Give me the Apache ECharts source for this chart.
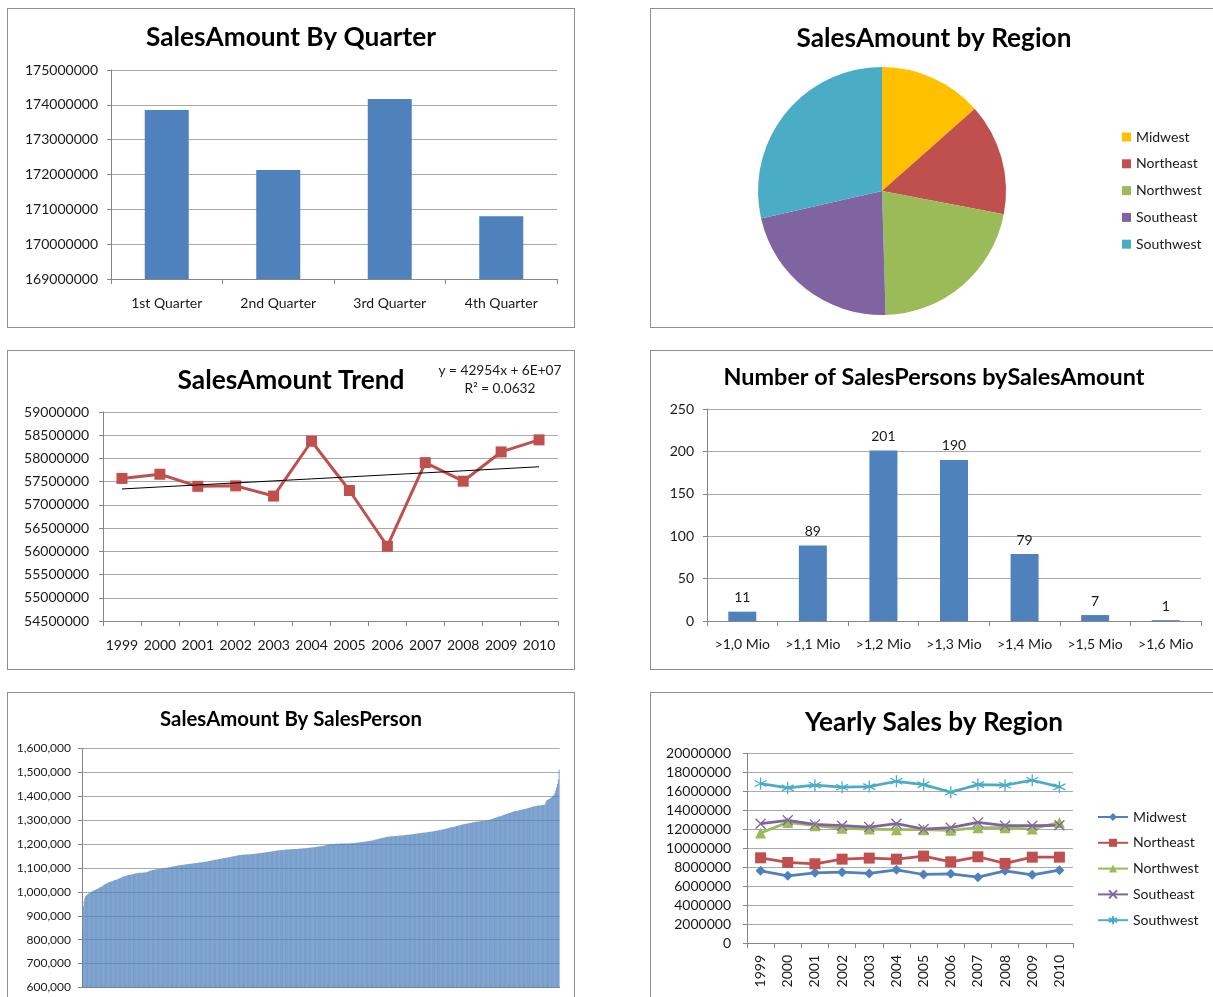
<!DOCTYPE html>
<html>
<head>
<meta charset="utf-8">
<script src="https://cdn.jsdelivr.net/npm/echarts@6/dist/echarts.min.js"></script>
<style>
html,body{margin:0;padding:0;background:#fff;overflow:hidden;width:1213px;height:997px;}
.panel{position:absolute;border:1px solid #8f8f8f;box-sizing:border-box;background:#fff;width:568px;}
</style>
</head>
<body>
<div id="c1" class="panel" style="left:7px;top:8px;height:320px"></div>
<div id="c2" class="panel" style="left:650px;top:8px;height:320px"></div>
<div id="c3" class="panel" style="left:7px;top:350px;height:320px"></div>
<div id="c4" class="panel" style="left:650px;top:350px;height:320px"></div>
<div id="c5" class="panel" style="left:7px;top:692px;height:330px"></div>
<div id="c6" class="panel" style="left:650px;top:692px;height:330px"></div>
<script>
// ---------------- DATA ----------------
const quarters = ['1st Quarter', '2nd Quarter', '3rd Quarter', '4th Quarter'];
const quarterSales = [173850000, 172130000, 174170000, 170800000];

const regions = ['Midwest', 'Northeast', 'Northwest', 'Southeast', 'Southwest'];
const regionSales = [92900000, 100600000, 148800000, 151400000, 197300000];

const years = ['1999', '2000', '2001', '2002', '2003', '2004', '2005', '2006', '2007', '2008', '2009', '2010'];
const yearlySales = [57570000, 57660000, 57400000, 57410000, 57190000, 58370000, 57310000, 56110000, 57910000, 57510000, 58140000, 58400000];
const trendEquation = 'y = 42954x + 6E+07';
const trendR2 = 'R\u00B2 = 0.0632';

const amountBins = ['>1,0 Mio', '>1,1 Mio', '>1,2 Mio', '>1,3 Mio', '>1,4 Mio', '>1,5 Mio', '>1,6 Mio'];
const binCounts = [11, 89, 201, 190, 79, 7, 1];

// sales amount per sales person, in thousands, sorted ascending
const salesPersonK = [
 838, 940, 962, 975, 982, 986, 989, 992, 994, 996, 998,
 1001, 1003, 1004, 1006, 1008, 1009, 1011, 1012, 1014, 1016,
 1018, 1020, 1022, 1024, 1026, 1029, 1031, 1033, 1035, 1036,
 1038, 1040, 1041, 1043, 1044, 1045, 1046, 1048, 1049, 1050,
 1051, 1052, 1054, 1055, 1057, 1058, 1060, 1061, 1063, 1064,
 1066, 1067, 1068, 1069, 1070, 1071, 1071, 1072, 1072, 1073,
 1074, 1075, 1076, 1077, 1078, 1078, 1079, 1079, 1080, 1080,
 1080, 1080, 1080, 1081, 1081, 1081, 1082, 1082, 1083, 1085,
 1087, 1089, 1090, 1091, 1092, 1093, 1093, 1094, 1094, 1095,
 1095, 1096, 1096, 1097, 1097, 1098, 1098, 1099, 1099,
 1100, 1100, 1101, 1102, 1102, 1103, 1104, 1104, 1105, 1106,
 1106, 1107, 1107, 1108, 1109, 1109, 1110, 1111, 1111, 1112,
 1113, 1113, 1114, 1114, 1115, 1115, 1116, 1116, 1117, 1117,
 1118, 1118, 1118, 1119, 1119, 1120, 1120, 1120, 1121, 1121,
 1122, 1122, 1123, 1123, 1124, 1124, 1125, 1125, 1126, 1126,
 1127, 1127, 1128, 1129, 1129, 1130, 1131, 1131, 1132, 1133,
 1134, 1134, 1135, 1136, 1136, 1137, 1138, 1138, 1139, 1140,
 1141, 1141, 1142, 1142, 1143, 1143, 1144, 1145, 1145, 1146,
 1147, 1147, 1148, 1149, 1149, 1150, 1151, 1151, 1152, 1153,
 1154, 1154, 1154, 1155, 1155, 1155, 1155, 1156, 1156, 1156,
 1157, 1157, 1157, 1158, 1158, 1158, 1159, 1159, 1160, 1160,
 1160, 1161, 1161, 1162, 1162, 1162, 1163, 1163, 1164, 1164,
 1165, 1165, 1166, 1166, 1167, 1167, 1168, 1168, 1169, 1169,
 1170, 1170, 1171, 1171, 1172, 1172, 1173, 1173, 1174, 1174,
 1174, 1175, 1175, 1175, 1176, 1176, 1176, 1177, 1177, 1177,
 1177, 1178, 1178, 1178, 1179, 1179, 1179, 1179, 1180, 1180,
 1180, 1181, 1181, 1181, 1182, 1182, 1182, 1183, 1183, 1183,
 1183, 1184, 1184, 1184, 1185, 1185, 1185, 1186, 1186, 1186,
 1187, 1187, 1188, 1188, 1189, 1189, 1190, 1190, 1191, 1191,
 1192, 1192, 1193, 1194, 1195, 1195, 1196, 1197, 1197, 1198,
 1199,
 1200, 1200, 1200, 1200, 1200, 1201, 1201, 1201, 1201, 1201,
 1201, 1202, 1202, 1202, 1202, 1202, 1202, 1203, 1203, 1203,
 1203, 1203, 1203, 1204, 1204, 1204, 1204, 1205, 1205, 1205,
 1206, 1206, 1206, 1207, 1207, 1208, 1208, 1208, 1209, 1209,
 1210, 1210, 1211, 1211, 1212, 1212, 1213, 1213, 1214, 1214,
 1215, 1216, 1217, 1218, 1219, 1219, 1220, 1221, 1222, 1223,
 1224, 1225, 1226, 1227, 1227, 1228, 1229, 1230, 1230, 1231,
 1232, 1232, 1232, 1233, 1233, 1233, 1233, 1234, 1234, 1234,
 1235, 1235, 1235, 1236, 1236, 1236, 1236, 1237, 1237, 1237,
 1238, 1238, 1239, 1239, 1239, 1240, 1240, 1240, 1241, 1241,
 1242, 1242, 1243, 1243, 1244, 1244, 1245, 1245, 1246, 1246,
 1247, 1247, 1248, 1248, 1249, 1249, 1250, 1250, 1251, 1251,
 1252, 1252, 1253, 1253, 1254, 1255, 1255, 1256, 1256, 1257,
 1258, 1258, 1259, 1260, 1260, 1261, 1262, 1262, 1263, 1264,
 1265, 1266, 1267, 1268, 1269, 1269, 1270, 1271, 1272, 1273,
 1274, 1275, 1276, 1277, 1278, 1278, 1279, 1280, 1281, 1282,
 1283, 1283, 1284, 1285, 1285, 1286, 1287, 1287, 1288, 1289,
 1289, 1290, 1291, 1291, 1292, 1293, 1293, 1294, 1295, 1295,
 1296, 1296, 1297, 1297, 1297, 1298, 1298, 1298, 1299, 1299,
 1300, 1301, 1302, 1303, 1304, 1305, 1306, 1308, 1309, 1310,
 1311, 1312, 1314, 1315, 1316, 1317, 1318, 1319, 1321, 1322,
 1323, 1324, 1326, 1327, 1328, 1329, 1330, 1331, 1333, 1334,
 1335, 1336, 1337, 1338, 1338, 1339, 1340, 1341, 1342, 1343,
 1344, 1345, 1345, 1346, 1347, 1348, 1348, 1349, 1350, 1351,
 1352, 1353, 1354, 1355, 1356, 1357, 1357, 1358, 1359, 1360,
 1360, 1361, 1361, 1362, 1362, 1363, 1364, 1364, 1365, 1366,
 1375, 1382, 1385, 1387, 1389, 1391, 1393, 1396, 1399,
 1402, 1408, 1415, 1425, 1438, 1452, 1470,
 1512
];

const midwest   = [7620000, 7090000, 7410000, 7480000, 7340000, 7720000, 7230000, 7300000, 6950000, 7620000, 7200000, 7690000];
const northeast = [8990000, 8500000, 8360000, 8850000, 8960000, 8850000, 9170000, 8570000, 9100000, 8400000, 9060000, 9060000];
const northwest = [11600000, 12730000, 12380000, 12100000, 12030000, 11960000, 11960000, 11890000, 12170000, 12170000, 12030000, 12730000];
const southeast = [12590000, 12950000, 12520000, 12380000, 12240000, 12590000, 12030000, 12170000, 12730000, 12380000, 12380000, 12420000];
const southwest = [16830000, 16370000, 16650000, 16440000, 16510000, 17070000, 16720000, 15910000, 16720000, 16650000, 17180000, 16470000];

// ---------------- STYLE HELPERS ----------------
const FONT = 'Lato, "Open Sans", sans-serif';
const INK = '#1a1a1a';
const GRIDC = '#a9a9a9';
const AXISC = '#868686';
const BLUE = '#4F81BD', RED = '#C0504D', GREEN = '#9BBB59', PURPLE = '#8064A2', CYAN = '#4BACC6', GOLD = '#FFC000';
const plain = v => String(v);

function fitSize(text, width, weight) {
  const ctx = document.createElement('canvas').getContext('2d');
  ctx.font = (weight || 'normal') + ' 100px ' + FONT;
  return 100 * width / ctx.measureText(text).width;
}
function title(text, cy, width) {
  const fs = fitSize(text, width, 'bold');
  return {text, left: 'center', top: cy - fs * 0.45, padding: 0,
    textStyle: {fontFamily: FONT, fontWeight: 'bold', fontSize: fs, color: '#000'}};
}
function valueAxis(min, max, interval, fs, margin, formatter) {
  return {type: 'value', min, max, interval,
    axisLine: {show: true, lineStyle: {color: AXISC}},
    axisTick: {show: true, length: 4, lineStyle: {color: AXISC}},
    splitLine: {show: true, lineStyle: {color: GRIDC, width: 1}},
    axisLabel: {color: INK, fontFamily: FONT, fontSize: fs, margin, formatter: formatter || plain}};
}
function catAxis(data, fs, margin, extra) {
  return Object.assign({type: 'category', data,
    axisLine: {show: true, lineStyle: {color: AXISC}},
    axisTick: {show: true, length: 5, lineStyle: {color: AXISC}},
    splitLine: {show: false},
    axisLabel: {color: INK, fontFamily: FONT, fontSize: fs, margin, interval: 0}}, extra || {});
}
function make(id, option) {
  const ch = echarts.init(document.getElementById(id), null, {renderer: 'canvas'});
  option.animation = false;
  ch.setOption(option);
}

// ---------------- CHART 1: By Quarter ----------------
make('c1', {
  title: title('SalesAmount By Quarter', 27, 290),
  grid: {left: 103, top: 61, width: 446, height: 209, outerBoundsMode: 'none'},
  xAxis: catAxis(quarters, 14, 17),
  yAxis: valueAxis(169000000, 175000000, 1000000, 14, 13),
  series: [{type: 'bar', data: quarterSales, barWidth: 44, itemStyle: {color: BLUE}}]
});

// ---------------- CHART 2: By Region (pie) ----------------
make('c2', {
  title: title('SalesAmount by Region', 28, 275),
  legend: {orient: 'vertical', left: 471, top: 119.5, padding: 0, icon: 'rect',
    itemWidth: 9, itemHeight: 9, itemGap: 9.8, data: regions,
    textStyle: {color: INK, fontFamily: FONT, fontSize: 14, lineHeight: 17}},
  series: [{type: 'pie', center: [231, 182], radius: 124, startAngle: 90, clockwise: true,
    label: {show: false}, labelLine: {show: false},
    itemStyle: {borderWidth: 0},
    data: regions.map((r, i) => ({name: r, value: regionSales[i]})),
    color: [GOLD, RED, GREEN, PURPLE, CYAN]}]
});

// ---------------- CHART 3: Trend ----------------
(function () {
  const n = yearlySales.length;
  const xs = yearlySales.map((_, i) => i + 1);
  const mx = xs.reduce((a, b) => a + b, 0) / n;
  const my = yearlySales.reduce((a, b) => a + b, 0) / n;
  let sxy = 0, sxx = 0;
  xs.forEach((x, i) => { sxy += (x - mx) * (yearlySales[i] - my); sxx += (x - mx) * (x - mx); });
  const slope = sxy / sxx, icpt = my - slope * mx;
  const trend = xs.map(x => icpt + slope * x);
  const eqFs = fitSize(trendEquation, 123);
  make('c3', {
    title: title('SalesAmount Trend', 28, 227),
    graphic: [
      {type: 'text', x: 492, y: 20, style: {text: trendEquation, fill: INK, font: eqFs + 'px ' + FONT,
        textAlign: 'center', textVerticalAlign: 'middle', align: 'center', verticalAlign: 'middle'}},
      {type: 'text', x: 492, y: 38, style: {text: trendR2, fill: INK, font: eqFs + 'px ' + FONT,
        textAlign: 'center', textVerticalAlign: 'middle', align: 'center', verticalAlign: 'middle'}}
    ],
    grid: {left: 95, top: 61, width: 455, height: 209, outerBoundsMode: 'none'},
    xAxis: catAxis(years, 14, 17),
    yAxis: valueAxis(54500000, 59000000, 500000, 14, 14),
    series: [
      {type: 'line', data: yearlySales, symbol: 'rect', symbolSize: 11,
        lineStyle: {color: RED, width: 3}, itemStyle: {color: RED}, z: 2},
      {type: 'line', data: trend, symbol: 'none', lineStyle: {color: '#000', width: 1}, z: 3}
    ]
  });
})();

// ---------------- CHART 4: Histogram ----------------
make('c4', {
  title: title('Number of SalesPersons bySalesAmount', 25, 421),
  grid: {left: 56, top: 58, width: 494, height: 212, outerBoundsMode: 'none'},
  xAxis: catAxis(amountBins, 14, 16),
  yAxis: valueAxis(0, 250, 50, 14, 13),
  series: [{type: 'bar', data: binCounts, barWidth: 28, itemStyle: {color: BLUE},
    label: {show: true, position: 'top', distance: 7, color: INK, fontFamily: FONT, fontSize: 14}}]
});

// ---------------- CHART 5: By SalesPerson ----------------
make('c5', {
  title: title('SalesAmount By SalesPerson', 26, 262),
  grid: {left: 74, top: 55.5, width: 477.5, height: 239, outerBoundsMode: 'none'},
  xAxis: {type: 'category', axisLine: {show: true, lineStyle: {color: AXISC}},
    axisTick: {show: false}, axisLabel: {show: false}, splitLine: {show: false}},
  yAxis: valueAxis(600000, 1600000, 100000, 12, 11, v => v.toLocaleString('en-US')),
  series: [{type: 'bar', data: salesPersonK.map(v => v * 1000), barCategoryGap: '12%', barMinWidth: 0.1,
    itemStyle: {color: BLUE}}]
});

// ---------------- CHART 6: Yearly by Region ----------------
const xMark = 'path://M0,0 L10,10 M10,0 L0,10';
const star = 'path://M5,0 L5,10 M0.7,2.5 L9.3,7.5 M9.3,2.5 L0.7,7.5';
function regionLine(name, data, color, symbol, size, stroke) {
  return {type: 'line', name, data, symbol, symbolSize: size,
    lineStyle: {color, width: 2.75},
    itemStyle: stroke ? {color, borderColor: color, borderWidth: 1.3} : {color}};
}
make('c6', {
  title: title('Yearly Sales by Region', 28, 258),
  legend: {orient: 'vertical', left: 446, top: 115.5, padding: 0, itemWidth: 30, itemHeight: 10,
    itemGap: 8.8, data: regions, textStyle: {color: INK, fontFamily: FONT, fontSize: 14, lineHeight: 17}},
  grid: {left: 96, top: 60.5, width: 326, height: 189.5, outerBoundsMode: 'none'},
  xAxis: catAxis(years, 14, 12, {axisLabel: {color: INK, fontFamily: FONT, fontSize: 14, margin: 12, interval: 0, rotate: 90}}),
  yAxis: valueAxis(0, 20000000, 2000000, 14, 16),
  series: [
    regionLine('Midwest', midwest, BLUE, 'diamond', 10),
    regionLine('Northeast', northeast, RED, 'rect', 11),
    regionLine('Northwest', northwest, GREEN, 'triangle', 11),
    regionLine('Southeast', southeast, PURPLE, xMark, 10, true),
    regionLine('Southwest', southwest, CYAN, star, 12, true)
  ]
});
</script>
</body>
</html>
